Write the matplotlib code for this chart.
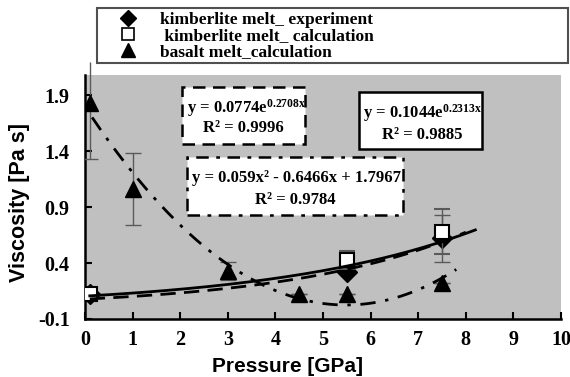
import numpy as np
import matplotlib
matplotlib.use("Agg")
import matplotlib.pyplot as plt
from matplotlib.patches import Rectangle
from matplotlib.lines import Line2D

plt.rcParams["mathtext.fontset"] = "custom"
plt.rcParams["mathtext.rm"] = "Liberation Serif:bold"
plt.rcParams["mathtext.bf"] = "Liberation Serif:bold"
plt.rcParams["mathtext.it"] = "Liberation Serif:bold"

SERIF = "Liberation Serif"
SANS = "Liberation Sans"

# Kimberlite melt: experiment and calculation
p_kimb = [0.1, 5.5, 7.5]
visc_kimb_exp = [0.12, 0.32, 0.62]
err_kimb_exp = [0.0, 0.0, 0.21]
visc_kimb_calc = [0.12, 0.43, 0.68]
err_kimb_calc = [0.0, 0.08, 0.20]

# Basalt melt: calculation (lower / upper errors)
p_bas = [0.1, 1.0, 3.0, 4.5, 5.5, 7.5]
visc_bas = [1.83, 1.06, 0.33, 0.12, 0.12, 0.22]
err_bas_lo = [0.50, 0.32, 0.08, 0.0, 0.0, 0.0]
err_bas_hi = [0.37, 0.32, 0.08, 0.0, 0.0, 0.0]

# Trend-line coefficients
exp_exp_a, exp_exp_b = 0.1044, 0.2313      # kimberlite experiment, exponential
calc_exp_a, calc_exp_b = 0.0774, 0.2708    # kimberlite calculation, exponential
poly_c2, poly_c1, poly_c0 = 0.059, -0.6466, 1.7967  # basalt, quadratic

x_ticks = [0, 1, 2, 3, 4, 5, 6, 7, 8, 9, 10]
y_ticks = [-0.1, 0.4, 0.9, 1.4, 1.9]

W, H = 570, 377
fig = plt.figure(figsize=(W / 100, H / 100), dpi=100)
ax = fig.add_axes([85 / W, 58 / H, 476 / W, 244 / H])
ax.set_facecolor("#c0c0c0")
ax.set_xlim(0, 10)
ax.set_ylim(-0.1, 2.08)

err_color = "#5a5a5a"

# Data points with error bars
ax.errorbar(p_kimb, visc_kimb_exp, yerr=err_kimb_exp, fmt="D", ms=10,
            mfc="black", mec="black", ecolor=err_color, elinewidth=1,
            capsize=6, capthick=1, zorder=3)
ax.errorbar(p_kimb, visc_kimb_calc, yerr=err_kimb_calc, fmt="s", ms=10,
            mfc="white", mec="black", mew=1.5, ecolor=err_color,
            elinewidth=1, capsize=6, capthick=1, zorder=4)
bas = ax.errorbar(p_bas, visc_bas, yerr=[err_bas_lo, err_bas_hi], fmt="^",
                  ms=11, mfc="black", mec="black", ecolor=err_color,
                  elinewidth=1, capsize=6, capthick=1, zorder=3)
for art in bas.lines[2]:
    art.set_clip_on(False)
# the bar at the first point runs up out of the frame without a cap
bas.lines[1][1].set_markevery([1, 2, 3, 4, 5])

# Trend lines
x1 = np.linspace(0.1, 8.2, 200)
ax.plot(x1, exp_exp_a * np.exp(exp_exp_b * x1), color="black", lw=2, zorder=5)
x2 = np.linspace(0.1, 8.0, 200)
ax.plot(x2, calc_exp_a * np.exp(calc_exp_b * x2), color="black", lw=2,
        dashes=(5.5, 3), zorder=5)
x3 = np.linspace(0.15, 7.8, 200)
ax.plot(x3, poly_c2 * x3 ** 2 + poly_c1 * x3 + poly_c0, color="black", lw=2,
        dashes=(5.5, 3.5, 1.2, 3.5), zorder=5)

# Equation boxes
boxes = [
    ((0.204, 0.717), 0.258, 0.234, (0, (5, 3))),
    ((0.214, 0.426), 0.454, 0.238, (0, (5, 3, 1.5, 3))),
    ((0.576, 0.697), 0.258, 0.233, "solid"),
]
for (x0, y0), w, h, ls in boxes:
    ax.add_patch(Rectangle((x0, y0), w, h, transform=ax.transAxes,
                           facecolor="white", edgecolor="black", lw=1.8,
                           linestyle=ls, zorder=6))

tkw = dict(transform=ax.transAxes, family=SERIF, fontweight="bold",
           fontsize=12, va="center", zorder=7)
ax.text(0.214, 0.865, r"y = 0.0774e$^{0.2708x}$", ha="left", **tkw)
ax.text(0.332, 0.783, "R² = 0.9996", ha="center", **tkw)
ax.text(0.225, 0.578, "y = 0.059x² - 0.6466x + 1.7967", ha="left", **tkw)
ax.text(0.441, 0.488, "R² = 0.9784", ha="center", **tkw)
ax.text(0.584, 0.844, r"y = 0.1044e$^{0.2313x}$", ha="left", **tkw)
ax.text(0.708, 0.754, "R² = 0.9885", ha="center", **tkw)

# Axes styling
for side in ("top", "right"):
    ax.spines[side].set_visible(False)
for side in ("left", "bottom"):
    ax.spines[side].set_linewidth(1.8)
ax.set_xticks(x_ticks)
ax.set_yticks(y_ticks)
ax.set_yticklabels([f"{v:.1f}" for v in y_ticks])
ax.tick_params(direction="in", length=5, width=1.5)
ax.tick_params(axis="x", pad=8)
ax.tick_params(axis="y", pad=11)
for lab in ax.get_xticklabels() + ax.get_yticklabels():
    lab.set_family(SERIF)
    lab.set_fontweight("bold")
    lab.set_fontsize(14.5)

fig.text(287 / W, 1 - 367 / H, "Pressure [GPa]", family=SANS,
         fontweight="bold", fontsize=15, ha="center", va="center")
fig.text(20 / W, 1 - 202 / H, "Viscosity [Pa s]", family=SANS,
         fontweight="bold", fontsize=15.5, ha="center", va="center",
         rotation=90)

# Legend
handles = [
    Line2D([], [], ls="none", marker="D", ms=8, mfc="black", mec="black"),
    Line2D([], [], ls="none", marker="s", ms=9, mfc="white", mec="black",
           mew=1.2),
    Line2D([], [], ls="none", marker="^", ms=10, mfc="black", mec="black"),
]
labels = ["kimberlite melt_ experiment", " kimberlite melt_ calculation",
          "basalt melt_calculation"]
leg = fig.legend(handles, labels, loc="upper left",
                 bbox_to_anchor=(97 / W, 1 - 63 / H, 471 / W, 55 / H),
                 mode="expand", frameon=True, fancybox=False,
                 edgecolor="#505050", framealpha=1, borderpad=0.2,
                 borderaxespad=0.0, labelspacing=0.0, handlelength=3.2,
                 handletextpad=0.25,
                 prop=dict(family=SERIF, weight="bold", size=12.5))
leg.get_frame().set_linewidth(1.5)

fig.savefig("out.png", dpi=100)
